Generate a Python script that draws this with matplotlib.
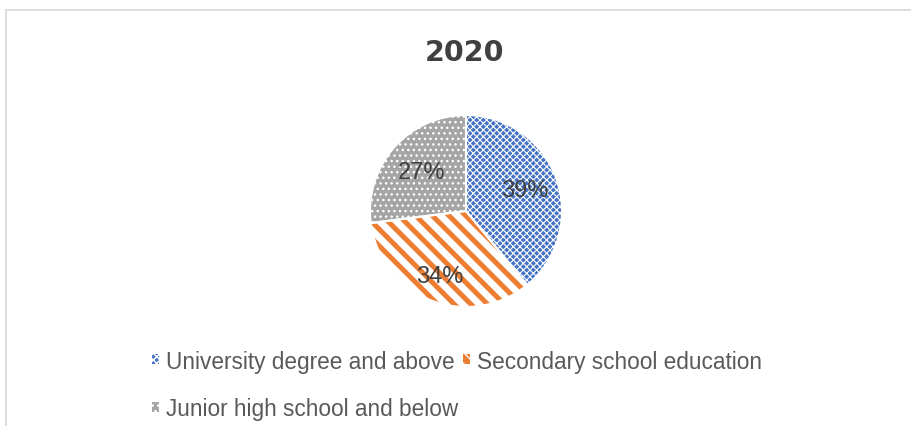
import matplotlib
matplotlib.use("Agg")
import matplotlib.pyplot as plt
from matplotlib.patches import Rectangle, Patch
import numpy as np

# data
categories = ["University degree and above", "Secondary school education",
              "Junior high school and below"]
shares = [39, 34, 27]
title = "2020"

colors = ["#4472C4", "#ED7D31", "#A5A5A5"]
label_r = [0.65, 0.73, 0.62]

fig = plt.figure(figsize=(9.12, 4.27), dpi=100)

# chart frame (only top and left visible in the crop)
fig.add_artist(Rectangle((6 / 912, -0.05), 1.2, (427 - 11) / 427 + 0.05,
                         transform=fig.transFigure, fill=False,
                         edgecolor="#D9D9D9", lw=1.3))

fig.text(465 / 912, 1 - 53 / 427, title, ha="center", va="center",
         fontsize=20.5, fontweight="bold", color="#404040",
         family="DejaVu Sans")

ax = fig.add_axes([(466 - 96) / 912, (215 - 96) / 427, 192 / 912, 192 / 427])
wedges, _ = ax.pie(shares, startangle=90, counterclock=False, radius=1,
                   colors=colors, wedgeprops=dict(linewidth=0))

# fill patterns like the excel pattern fills
wedges[0].set_edgecolor("white")
wedges[0].set_hatch("xxxxx")
wedges[1].set_facecolor("white")
wedges[1].set_edgecolor(colors[1])
wedges[1].set_hatch("\\\\")
wedges[2].set_edgecolor("white")
wedges[2].set_hatch("...")
if hasattr(wedges[1], "set_hatch_linewidth"):
    wedges[0].set_hatch_linewidth(0.8)
    wedges[1].set_hatch_linewidth(3.6)
    wedges[2].set_hatch_linewidth(1.0)

# white separators
ax.pie(shares, startangle=90, counterclock=False, radius=1,
       colors=["none"] * 3, wedgeprops=dict(edgecolor="white", linewidth=1.5))

for w, s, r in zip(wedges, shares, label_r):
    ang = np.deg2rad((w.theta1 + w.theta2) / 2)
    ax.text(r * np.cos(ang), r * np.sin(ang), f"{s}%", ha="center",
            va="center", fontsize=17, color="#404040",
            family=["Liberation Sans Narrow", "Liberation Sans"])

ax.set_xlim(-1, 1)
ax.set_ylim(-1, 1)
ax.set_aspect("equal")
ax.axis("off")

# legend: two on first row, one on second
handles = [wedges[0], wedges[2],
           Patch(facecolor=colors[1], edgecolor="white", hatch="\\\\\\", lw=0)]
order = [0, 2, 1]
leg = fig.legend(handles, [categories[i] for i in order],
                 ncol=2, loc="center left",
                 bbox_to_anchor=(152 / 912, (427 - 386) / 427),
                 frameon=False, handlelength=0.3,
                 handleheight=0.3, handletextpad=0.3, columnspacing=0.25,
                 labelspacing=1.1, borderpad=0, borderaxespad=0,
                 prop=dict(family="Liberation Sans", size=16.3))
for t in leg.get_texts():
    t.set_color("#595959")

fig.savefig("out.png", dpi=100)
